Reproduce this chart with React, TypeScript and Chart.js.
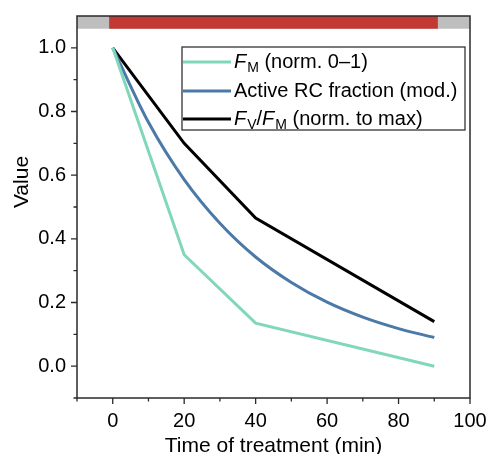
import React, { useEffect, useRef } from "react";
import { Chart, registerables } from "chart.js";

Chart.register(...registerables);

// ---- data ----
const fmTimes = [0, 20, 40, 90];
const fmValues = [1.0, 0.35, 0.135, 0.0];

const rcTimes = [0, 10, 20, 30, 40, 50, 60, 70, 80, 90];
const rcValues = [1.0, 0.766, 0.586, 0.449, 0.343, 0.263, 0.201, 0.154, 0.118, 0.09];

const fvTimes = [0, 20, 40, 90];
const fvValues = [1.0, 0.7, 0.465, 0.14];

const xMajorTicks = [0, 20, 40, 60, 80, 100];
const xMinorTicks = [-10, 10, 30, 50, 70, 90];
const yMajorTicks = [0, 0.2, 0.4, 0.6, 0.8, 1.0];
const yMinorTicks = [-0.1, 0.1, 0.3, 0.5, 0.7, 0.9];

// treatment strip (x-range of the red bar, y-range of the strip)
const treatmentStart = -1;
const treatmentEnd = 91;
const stripBottom = 1.06;
const stripTop = 1.1;

const yTitle = "Value";
const xTitle = "Time of treatment (min)";

const FONT = "'Liberation Sans', Arial, Helvetica, sans-serif";
const COLORS = {
  fm: "rgb(128,215,185)",
  rc: "rgb(75,121,168)",
  fv: "#000000",
  red: "rgb(193,57,50)",
  gray: "rgb(190,190,190)",
  axis: "#2a2a2a",
};

type Seg = { t: string; italic?: boolean; sub?: boolean };
const legendItems: { color: string; segs: Seg[] }[] = [
  { color: COLORS.fm, segs: [{ t: "F", italic: true }, { t: "M", sub: true }, { t: " (norm. 0\u20131)" }] },
  { color: COLORS.rc, segs: [{ t: "Active RC fraction (mod.)" }] },
  {
    color: COLORS.fv,
    segs: [
      { t: "F", italic: true },
      { t: "V", sub: true },
      { t: "/" },
      { t: "F", italic: true },
      { t: "M", sub: true },
      { t: " (norm. to max)" },
    ],
  },
];

const toPoints = (xs: number[], ys: number[]) => xs.map((x, i) => ({ x, y: ys[i] }));

const zeroPad = (s: any) => {
  s.paddingLeft = 0;
  s.paddingRight = 0;
  s.paddingTop = 0;
  s.paddingBottom = 0;
};

const decorPlugin = {
  id: "decor",
  beforeDatasetsDraw(chart: any) {
    const { ctx, scales } = chart;
    const xs = scales.x, ys = scales.y;
    const ca = chart.chartArea;
    const yT = ys.getPixelForValue(stripTop);
    const yB = ys.getPixelForValue(stripBottom);
    ctx.save();
    ctx.fillStyle = COLORS.gray;
    ctx.fillRect(ca.left, yT, ca.right - ca.left, yB - yT);
    ctx.fillStyle = COLORS.red;
    const x1 = xs.getPixelForValue(treatmentStart);
    const x2 = xs.getPixelForValue(treatmentEnd);
    ctx.fillRect(x1, yT, x2 - x1, yB - yT);
    ctx.restore();
  },
  afterDraw(chart: any) {
    const { ctx, scales } = chart;
    const xs = scales.x, ys = scales.y;
    const ca = chart.chartArea;
    ctx.save();
    ctx.strokeStyle = COLORS.axis;
    ctx.lineWidth = 1.5;
    ctx.strokeRect(ca.left, ca.top, ca.right - ca.left, ca.bottom - ca.top);
    ctx.lineWidth = 1.3;
    ctx.beginPath();
    const tick = (v: number, len: number, isX: boolean) => {
      if (isX) {
        const p = xs.getPixelForValue(v);
        ctx.moveTo(p, ca.bottom);
        ctx.lineTo(p, ca.bottom + len);
      } else {
        const p = ys.getPixelForValue(v);
        ctx.moveTo(ca.left, p);
        ctx.lineTo(ca.left - len, p);
      }
    };
    xMajorTicks.forEach((v) => tick(v, 6, true));
    xMinorTicks.forEach((v) => tick(v, 3.5, true));
    yMajorTicks.forEach((v) => tick(v, 6, false));
    yMinorTicks.forEach((v) => tick(v, 3.5, false));
    ctx.stroke();

    // y-axis title
    ctx.save();
    ctx.translate(22, 182);
    ctx.rotate(-Math.PI / 2);
    ctx.fillStyle = "#000";
    ctx.font = `21px ${FONT}`;
    ctx.textAlign = "center";
    ctx.textBaseline = "middle";
    ctx.fillText(yTitle, 0, 0);
    ctx.restore();

    // legend
    const bx = 182, by = 47, bw = 283, bh = 83;
    ctx.fillStyle = "#ffffff";
    ctx.fillRect(bx, by, bw, bh);
    ctx.strokeStyle = "#333333";
    ctx.lineWidth = 1.3;
    ctx.strokeRect(bx, by, bw, bh);
    const rows = [62, 91, 119];
    legendItems.forEach((item, i) => {
      const y = rows[i];
      ctx.strokeStyle = item.color;
      ctx.lineWidth = 3;
      ctx.beginPath();
      ctx.moveTo(bx + 1, y);
      ctx.lineTo(231, y);
      ctx.stroke();
      let x = 234;
      ctx.fillStyle = "#000";
      ctx.textBaseline = "middle";
      ctx.textAlign = "left";
      item.segs.forEach((s) => {
        if (s.sub) {
          ctx.font = `14px ${FONT}`;
          ctx.fillText(s.t, x, y + 6);
        } else {
          ctx.font = `${s.italic ? "italic " : ""}20px ${FONT}`;
          ctx.fillText(s.t, x, y);
        }
        x += ctx.measureText(s.t).width + (s.italic ? 1 : 0);
      });
    });
    ctx.restore();
  },
};

export default function App() {
  const ref = useRef<HTMLCanvasElement>(null);
  useEffect(() => {
    document.body.style.margin = "0";
    const canvas = ref.current!;
    const chart = new Chart(canvas, {
      type: "line",
      data: {
        datasets: [
          {
            data: toPoints(fmTimes, fmValues),
            borderColor: COLORS.fm,
            borderWidth: 3,
            pointRadius: 0,
            tension: 0,
          },
          {
            data: toPoints(rcTimes, rcValues),
            borderColor: COLORS.rc,
            borderWidth: 3,
            pointRadius: 0,
            cubicInterpolationMode: "monotone",
          },
          {
            data: toPoints(fvTimes, fvValues),
            borderColor: COLORS.fv,
            borderWidth: 3,
            pointRadius: 0,
            tension: 0,
          },
        ],
      },
      options: {
        animation: false,
        responsive: false,
        layout: { padding: { top: 16, right: 18, left: 0, bottom: 0 } },
        plugins: { legend: { display: false }, tooltip: { enabled: false } },
        scales: {
          x: {
            type: "linear",
            min: -10,
            max: 100,
            afterBuildTicks: (s: any) => {
              s.ticks = xMajorTicks.map((v) => ({ value: v }));
            },
            afterFit: (s: any) => {
              s.height = 56;
              zeroPad(s);
            },
            grid: { display: false, drawTicks: false },
            border: { display: false },
            ticks: {
              font: { family: FONT, size: 20 },
              color: "#000",
              padding: 11,
              maxRotation: 0,
              autoSkip: false,
            },
            title: {
              display: true,
              text: xTitle,
              color: "#000",
              font: { family: FONT, size: 21 },
              padding: { top: 0, bottom: -5 },
            },
          },
          y: {
            type: "linear",
            min: -0.1,
            max: 1.1,
            afterBuildTicks: (s: any) => {
              s.ticks = yMajorTicks.map((v) => ({ value: v }));
            },
            afterFit: (s: any) => {
              s.width = 77;
              zeroPad(s);
            },
            grid: { display: false, drawTicks: false },
            border: { display: false },
            ticks: {
              font: { family: FONT, size: 20 },
              color: "#000",
              padding: 11,
              autoSkip: false,
              callback: (v: any) => Number(v).toFixed(1),
            },
            title: { display: false },
          },
        },
      },
      plugins: [decorPlugin],
    } as any);
    return () => chart.destroy();
  }, []);
  return <canvas ref={ref} width={488} height={454} style={{ display: "block" }} />;
}
